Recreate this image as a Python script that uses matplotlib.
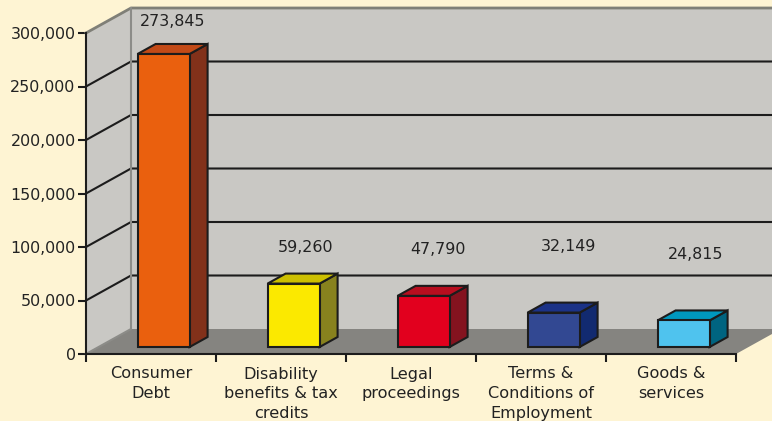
import matplotlib
matplotlib.use('Agg')
import matplotlib.pyplot as plt
from matplotlib.patches import Polygon
from matplotlib.ticker import FuncFormatter

categories = ['Consumer\nDebt', 'Disability\nbenefits & tax\ncredits', 'Legal\nproceedings',
              'Terms &\nConditions of\nEmployment', 'Goods &\nservices']
values = [273845, 59260, 47790, 32149, 24815]
y_ticks = [0, 50000, 100000, 150000, 200000, 250000, 300000]

front_colors = ['#EA600E', '#FBE900', '#E2001E', '#324892', '#4FC3EE']
top_colors = ['#C24A17', '#CCBF00', '#B80E1F', '#1B3287', '#0098BE']
side_colors = ['#82311A', '#88821E', '#84131F', '#122A70', '#006480']

# where the value captions sit
label_x = [0.67, 0.685, 0.71, 0.71, 0.69]
label_y = [310500, 99700, 97800, 100600, 93200]

bg = '#FEF4D3'
wall = '#C9C8C4'
floor = '#858480'
edge_gray = '#7F7F77'
dark = '#1C1C1C'

# depth of the box, in data units
depth_x = 45 / 130
depth_y = 25 * 300000 / 321
bar_width = 0.4
bar_front = 0.28
bar_back = 0.68

W, H = 772, 421
fig = plt.figure(figsize=(W / 100, H / 100), dpi=100, facecolor=bg)
ax = fig.add_axes([86 / W, (H - 354) / H, 650 / W, 321 / H])
ax.set_xlim(0, 5)
ax.set_ylim(0, 300000)
ax.patch.set_visible(False)


def proj(x, y, d):
    # shift a point back along the depth axis
    return (x + d * depth_x, y + d * depth_y)


def face(points, color, z, lw=1.5, ec=dark):
    ax.add_patch(Polygon(points, closed=True, fc=color, ec=ec, lw=lw, zorder=z,
                         clip_on=False, joinstyle='miter'))


# back wall, side wall and floor
face([proj(0, 0, 1), proj(5, 0, 1), proj(5, 300000, 1), proj(0, 300000, 1)], wall, 1, lw=0)
face([proj(0, 0, 0), proj(0, 0, 1), proj(0, 300000, 1), proj(0, 300000, 0)], wall, 1, lw=0)
face([proj(0, 0, 0), proj(5, 0, 0), proj(5, 0, 1), proj(0, 0, 1)], floor, 1, lw=0)

# gridlines run across the side wall and along the back wall
for t in y_ticks[1:-1]:
    xs, ys = zip(proj(0, t, 0), proj(0, t, 1), proj(5, t, 1))
    ax.plot(xs, ys, color=dark, lw=1.5, zorder=2, clip_on=False)

xs, ys = zip(proj(0, 300000, 0), proj(0, 300000, 1), proj(5, 300000, 1))
ax.plot(xs, ys, color=edge_gray, lw=2, zorder=2, clip_on=False)
xs, ys = zip(proj(0, 0, 0), proj(0, 0, 1), proj(0, 300000, 1))
ax.plot(xs, ys, color='#8C8C88', lw=1.5, zorder=2, clip_on=False)

# 3D bars
for i, v in enumerate(values):
    x0 = i + 0.5 - bar_width / 2
    x1 = i + 0.5 + bar_width / 2
    a = proj(x0, 0, bar_front)
    b = proj(x1, 0, bar_front)
    c = proj(x1, v, bar_front)
    d = proj(x0, v, bar_front)
    face([b, proj(x1, 0, bar_back), proj(x1, v, bar_back), c], side_colors[i], 3)
    face([d, c, proj(x1, v, bar_back), proj(x0, v, bar_back)], top_colors[i], 3)
    face([a, b, c, d], front_colors[i], 4)
    ax.text(i + label_x[i], label_y[i], f'{v:,}', ha='center', va='center',
            fontsize=11.4, color='#222222', zorder=5)

for s in ['top', 'right']:
    ax.spines[s].set_visible(False)
for s in ['left', 'bottom']:
    ax.spines[s].set_color(dark)
    ax.spines[s].set_linewidth(1.5)
    ax.spines[s].set_zorder(6)

ax.set_yticks(y_ticks)
ax.yaxis.set_major_formatter(FuncFormatter(lambda v, p: f'{int(v):,}'))
ax.tick_params(axis='y', length=6, width=1.5, color=dark, labelsize=11.4, labelcolor='#222222', pad=1.5)

ax.set_xticks(range(6))
ax.set_xticklabels([])
ax.set_xticks([i + 0.5 for i in range(5)], categories, minor=True)
ax.tick_params(axis='x', which='major', length=6, width=1.5, color=dark)
ax.tick_params(axis='x', which='minor', length=0, labelsize=11.6, labelcolor='#222222', pad=9)
for lab in ax.get_xticklabels(minor=True):
    lab.set_linespacing(1.38)

fig.savefig('out.png', dpi=100, facecolor=bg)
